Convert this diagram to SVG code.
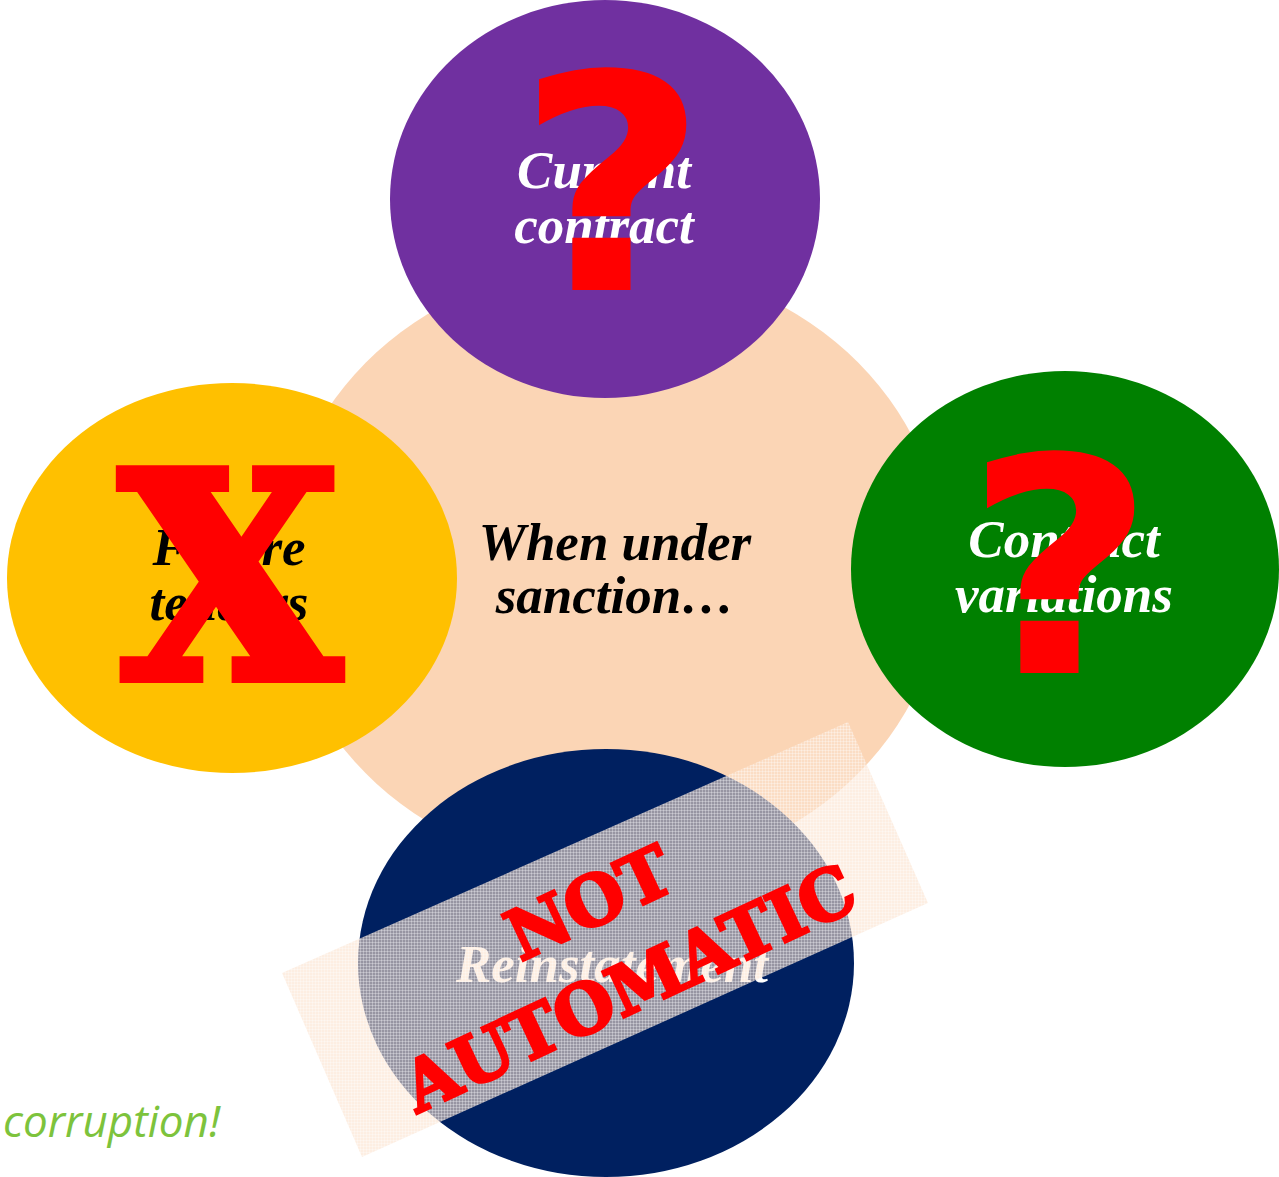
<svg xmlns="http://www.w3.org/2000/svg" width="1279" height="1177" viewBox="0 0 1279 1177">
  <defs>
    <pattern id="mesh" patternUnits="userSpaceOnUse" width="3" height="3">
      <rect width="3" height="3" fill="#fbe3cf" fill-opacity="0.6"/>
      <rect width="3" height="1" fill="#ffffff" fill-opacity="0.3"/>
      <rect width="1" height="3" fill="#ffffff" fill-opacity="0.3"/>
    </pattern>
  </defs>
  <style>
    .lbl { font-family: "Liberation Serif", "Times New Roman", serif; font-weight: bold; font-style: italic; font-size: 53px; text-anchor: middle; }
    .white { fill: #ffffff; }
    .black { fill: #000000; }
    .qmark { font-family: "DejaVu Sans", sans-serif; font-weight: bold; fill: #ff0000; text-anchor: middle; font-size: 300px; }
    .xmark { font-family: "DejaVu Serif", serif; font-weight: bold; fill: #ff0000; stroke: #ff0000; stroke-width: 10; text-anchor: middle; font-size: 285px; }
    .stamp { font-family: "DejaVu Serif", serif; font-weight: bold; fill: #ff0000; stroke: #ff0000; stroke-width: 3; text-anchor: middle; font-size: 69px; }
  </style>
  <rect width="1279" height="1177" fill="#ffffff"/>

  <g id="center">
    <ellipse cx="612" cy="568" rx="333" ry="305" fill="#fbd5b5"/>
    <text class="lbl black" x="615" y="560">When under</text>
    <text class="lbl black" x="615" y="613">sanction…</text>
  </g>

  <g id="current-contract">
    <ellipse cx="605" cy="199" rx="215" ry="199" fill="#7030a0"/>
    <text class="lbl white" x="604" y="188">Current</text>
    <text class="lbl white" x="604" y="243">contract</text>
    <text class="qmark" transform="translate(612,290) scale(1.1,1)">?</text>
  </g>

  <g id="future-tenders">
    <ellipse cx="232" cy="578" rx="225" ry="195" fill="#ffc000"/>
    <text class="lbl black" x="229" y="565">Future</text>
    <text class="lbl black" x="229" y="620">tenders</text>
    <text class="xmark" x="230" y="678">X</text>
  </g>

  <g id="contract-variations">
    <ellipse cx="1065" cy="569" rx="214" ry="198" fill="#008000"/>
    <text class="lbl white" x="1064" y="557">Contract</text>
    <text class="lbl white" x="1064" y="612">variations</text>
    <text class="qmark" transform="translate(1060,673) scale(1.1,1)">?</text>
  </g>

  <g id="reinstatement">
    <ellipse cx="606" cy="963" rx="248" ry="214" fill="#002060"/>
    <text class="lbl white" x="612" y="982" font-size="50">Reinstatement</text>
    <polygon points="282,973 848,722 928,903 362,1157" fill="url(#mesh)"/>
    <g transform="translate(608,943) rotate(-25)">
      <text class="stamp" x="0" y="-20">NOT</text>
      <text class="stamp" x="0" y="74">AUTOMATIC</text>
    </g>
  </g>

  <g id="footer">
    <text x="3" y="1137" font-family="'Open Sans', 'Noto Sans', sans-serif" font-style="italic" font-size="44" fill="#7dc33c">corruption!</text>
  </g>
</svg>
